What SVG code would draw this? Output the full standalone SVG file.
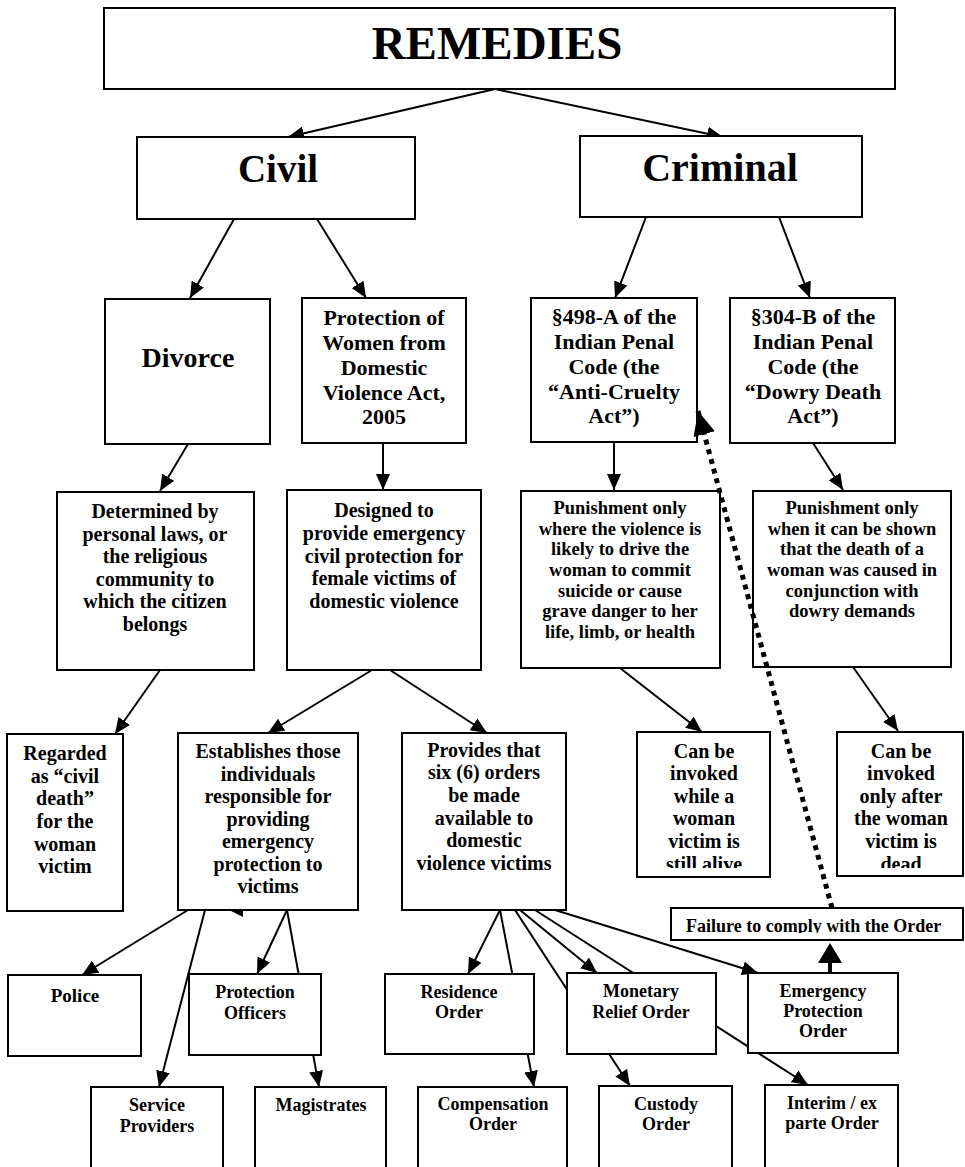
<svg xmlns="http://www.w3.org/2000/svg" width="965" height="1167" viewBox="0 0 965 1167">
<style>
.box{fill:#fff;stroke:#000;stroke-width:2}
.t{font-family:'Liberation Serif','Times New Roman',serif;font-weight:bold;text-anchor:middle;fill:#000}
.c{stroke:#000;stroke-width:2;fill:none;marker-end:url(#ah)}
.dot{stroke:#000;stroke-width:5;fill:none;stroke-dasharray:5 5;marker-end:url(#ahBig)}
</style>
<defs>
<marker id="ah" markerUnits="userSpaceOnUse" markerWidth="16" markerHeight="14" viewBox="0 0 16 14" refX="16" refY="7" orient="auto">
<path d="M0,0 L16,7 L0,14 z" fill="#000"/>
</marker>
<marker id="ahBig" markerUnits="userSpaceOnUse" markerWidth="24" markerHeight="22" viewBox="0 0 24 22" refX="24" refY="11" orient="auto">
<path d="M0,0 L24,11 L0,22 z" fill="#000"/>
</marker>
<clipPath id="clipA"><rect x="637" y="732" width="133" height="136"/></clipPath>
<clipPath id="clipB"><rect x="837" y="732" width="126" height="136"/></clipPath>
<clipPath id="clipF"><rect x="671" y="908" width="292" height="25"/></clipPath>
</defs>
<rect width="965" height="1167" fill="#fff"/>

<g id="connectors">
<line class="c" x1="495" y1="89" x2="288" y2="137"/>
<line class="c" x1="495" y1="89" x2="723" y2="137"/>
<line class="c" x1="234" y1="219" x2="190" y2="298"/>
<line class="c" x1="317" y1="219" x2="366" y2="298"/>
<line class="c" x1="646" y1="217" x2="615" y2="298"/>
<line class="c" x1="779" y1="217" x2="810" y2="298"/>
<line class="c" x1="188" y1="444" x2="160" y2="491"/>
<line class="c" x1="383" y1="443" x2="383" y2="490"/>
<line class="c" x1="614" y1="442" x2="614" y2="490"/>
<line class="c" x1="813" y1="443" x2="843" y2="490"/>
<line class="c" x1="160" y1="670" x2="115" y2="734"/>
<line class="c" x1="372" y1="670" x2="268" y2="733"/>
<line class="c" x1="390" y1="670" x2="487" y2="733"/>
<line class="c" x1="620" y1="668" x2="702" y2="732"/>
<line class="c" x1="853" y1="667" x2="898" y2="731"/>
<line class="c" x1="188" y1="910" x2="82" y2="975"/>
<line class="c" x1="205" y1="910" x2="159" y2="1087"/>
<line class="c" x1="287" y1="910" x2="257" y2="974"/>
<line class="c" x1="287" y1="910" x2="319" y2="1087"/>
<polygon points="229,910 243,903 243,917" fill="#000"/>
<line class="c" x1="500" y1="910" x2="468" y2="974"/>
<line class="c" x1="500" y1="910" x2="534" y2="1087"/>
<line class="c" x1="515" y1="910" x2="630" y2="1086"/>
<line class="c" x1="520" y1="910" x2="597" y2="973"/>
<line class="c" x1="535" y1="910" x2="808" y2="1085"/>
<line class="c" x1="555" y1="910" x2="758" y2="973"/>
<line x1="830" y1="962" x2="830" y2="973" stroke="#000" stroke-width="4"/>
<polygon points="830,943 818,963 842,963" fill="#000"/>
</g>

<g id="remedies"><rect class="box" x="104" y="8" width="791" height="81"/><text class="t" x="497" y="59" font-size="47">REMEDIES</text></g>
<g id="civil"><rect class="box" x="137" y="137" width="278" height="82"/><text class="t" x="278" y="182" font-size="39">Civil</text></g>
<g id="criminal"><rect class="box" x="580" y="136" width="282" height="81"/><text class="t" x="720" y="181" font-size="40">Criminal</text></g>

<g id="divorce"><rect class="box" x="105" y="299" width="165" height="145"/><text class="t" x="188" y="367" font-size="28">Divorce</text></g>
<g id="pwdva"><rect class="box" x="302" y="298" width="164" height="145"/>
<text class="t" font-size="22"><tspan x="384" y="325">Protection of</tspan><tspan x="384" y="350">Women from</tspan><tspan x="384" y="375">Domestic</tspan><tspan x="384" y="400">Violence Act,</tspan><tspan x="384" y="424">2005</tspan></text></g>
<g id="s498a"><rect class="box" x="531" y="298" width="166" height="144"/>
<text class="t" font-size="22"><tspan x="614" y="324">§498-A of the</tspan><tspan x="614" y="349">Indian Penal</tspan><tspan x="614" y="374">Code (the</tspan><tspan x="614" y="399">“Anti-Cruelty</tspan><tspan x="614" y="423">Act”)</tspan></text></g>
<g id="s304b"><rect class="box" x="730" y="298" width="165" height="145"/>
<text class="t" font-size="22"><tspan x="813" y="324">§304-B of the</tspan><tspan x="813" y="349">Indian Penal</tspan><tspan x="813" y="374">Code (the</tspan><tspan x="813" y="399">“Dowry Death</tspan><tspan x="813" y="423">Act”)</tspan></text></g>

<g id="determined"><rect class="box" x="57" y="492" width="197" height="178"/>
<text class="t" font-size="20"><tspan x="155" y="518">Determined by</tspan><tspan x="155" y="541">personal laws, or</tspan><tspan x="155" y="563">the religious</tspan><tspan x="155" y="586">community to</tspan><tspan x="155" y="608">which the citizen</tspan><tspan x="155" y="631">belongs</tspan></text></g>
<g id="designed"><rect class="box" x="287" y="490" width="194" height="180"/>
<text class="t" font-size="20"><tspan x="384" y="517">Designed to</tspan><tspan x="384" y="540">provide emergency</tspan><tspan x="384" y="563">civil protection for</tspan><tspan x="384" y="585">female victims of</tspan><tspan x="384" y="608">domestic violence</tspan></text></g>
<g id="punish1"><rect class="box" x="521" y="491" width="199" height="177"/>
<text class="t" font-size="18.5"><tspan x="620" y="514">Punishment only</tspan><tspan x="620" y="535">where the violence is</tspan><tspan x="620" y="555">likely to drive the</tspan><tspan x="620" y="576">woman to commit</tspan><tspan x="620" y="597">suicide or cause</tspan><tspan x="620" y="617">grave danger to her</tspan><tspan x="620" y="638">life, limb, or health</tspan></text></g>
<g id="punish2"><rect class="box" x="753" y="491" width="198" height="176"/>
<text class="t" font-size="18.5"><tspan x="852" y="514">Punishment only</tspan><tspan x="852" y="535">when it can be shown</tspan><tspan x="852" y="555">that the death of a</tspan><tspan x="852" y="576">woman was caused in</tspan><tspan x="852" y="597">conjunction with</tspan><tspan x="852" y="617">dowry demands</tspan></text></g>

<g id="regarded"><rect class="box" x="7" y="734" width="116" height="177"/>
<text class="t" font-size="20"><tspan x="65" y="760">Regarded</tspan><tspan x="65" y="783">as “civil</tspan><tspan x="65" y="805">death”</tspan><tspan x="65" y="828">for the</tspan><tspan x="65" y="851">woman</tspan><tspan x="65" y="873">victim</tspan></text></g>
<g id="establishes"><rect class="box" x="178" y="733" width="180" height="177"/>
<text class="t" font-size="20"><tspan x="268" y="758">Establishes those</tspan><tspan x="268" y="781">individuals</tspan><tspan x="268" y="803">responsible for</tspan><tspan x="268" y="826">providing</tspan><tspan x="268" y="848">emergency</tspan><tspan x="268" y="871">protection to</tspan><tspan x="268" y="893">victims</tspan></text></g>
<g id="provides"><rect class="box" x="402" y="733" width="164" height="177"/>
<text class="t" font-size="20"><tspan x="484" y="757">Provides that</tspan><tspan x="484" y="779">six (6) orders</tspan><tspan x="484" y="802">be made</tspan><tspan x="484" y="825">available to</tspan><tspan x="484" y="847">domestic</tspan><tspan x="484" y="870">violence victims</tspan></text></g>
<g id="canbe1"><rect class="box" x="637" y="732" width="133" height="145"/>
<text class="t" font-size="20" clip-path="url(#clipA)"><tspan x="704" y="758">Can be</tspan><tspan x="704" y="780">invoked</tspan><tspan x="704" y="803">while a</tspan><tspan x="704" y="825">woman</tspan><tspan x="704" y="848">victim is</tspan><tspan x="704" y="871">still alive</tspan></text></g>
<g id="canbe2"><rect class="box" x="837" y="732" width="126" height="144"/>
<text class="t" font-size="20" clip-path="url(#clipB)"><tspan x="901" y="758">Can be</tspan><tspan x="901" y="780">invoked</tspan><tspan x="901" y="803">only after</tspan><tspan x="901" y="825">the woman</tspan><tspan x="901" y="848">victim is</tspan><tspan x="901" y="871">dead</tspan></text></g>

<g id="failure"><rect class="box" x="671" y="908" width="292" height="32"/>
<text class="t" font-size="18" x="686" y="932" style="text-anchor:start" clip-path="url(#clipF)">Failure to comply with the Order</text></g>

<g id="police"><rect class="box" x="8" y="975" width="133" height="81"/><text class="t" x="75" y="1002" font-size="19">Police</text></g>
<g id="officers"><rect class="box" x="189" y="974" width="132" height="81"/>
<text class="t" font-size="18"><tspan x="255" y="998">Protection</tspan><tspan x="255" y="1019">Officers</tspan></text></g>
<g id="residence"><rect class="box" x="385" y="974" width="149" height="80"/>
<text class="t" font-size="18"><tspan x="459" y="998">Residence</tspan><tspan x="459" y="1018">Order</tspan></text></g>
<g id="monetary"><rect class="box" x="567" y="973" width="149" height="81"/>
<text class="t" font-size="18"><tspan x="641" y="997">Monetary</tspan><tspan x="641" y="1018">Relief Order</tspan></text></g>
<g id="emergency"><rect class="box" x="748" y="973" width="150" height="80"/>
<text class="t" font-size="18"><tspan x="823" y="997">Emergency</tspan><tspan x="823" y="1017">Protection</tspan><tspan x="823" y="1037">Order</tspan></text></g>

<g id="service"><rect class="box" x="91" y="1087" width="132" height="90"/>
<text class="t" font-size="18"><tspan x="157" y="1111">Service</tspan><tspan x="157" y="1132">Providers</tspan></text></g>
<g id="magistrates"><rect class="box" x="255" y="1087" width="131" height="90"/><text class="t" x="321" y="1111" font-size="18">Magistrates</text></g>
<g id="compensation"><rect class="box" x="418" y="1087" width="149" height="90"/>
<text class="t" font-size="18"><tspan x="493" y="1110">Compensation</tspan><tspan x="493" y="1130">Order</tspan></text></g>
<g id="custody"><rect class="box" x="599" y="1086" width="133" height="91"/>
<text class="t" font-size="18"><tspan x="666" y="1110">Custody</tspan><tspan x="666" y="1130">Order</tspan></text></g>
<g id="interim"><rect class="box" x="765" y="1085" width="133" height="92"/>
<text class="t" font-size="18"><tspan x="832" y="1109">Interim / ex</tspan><tspan x="832" y="1129">parte Order</tspan></text></g>

<g id="connectors-overlay">
<line class="dot" x1="832" y1="908" x2="698" y2="411"/>
</g>
</svg>
